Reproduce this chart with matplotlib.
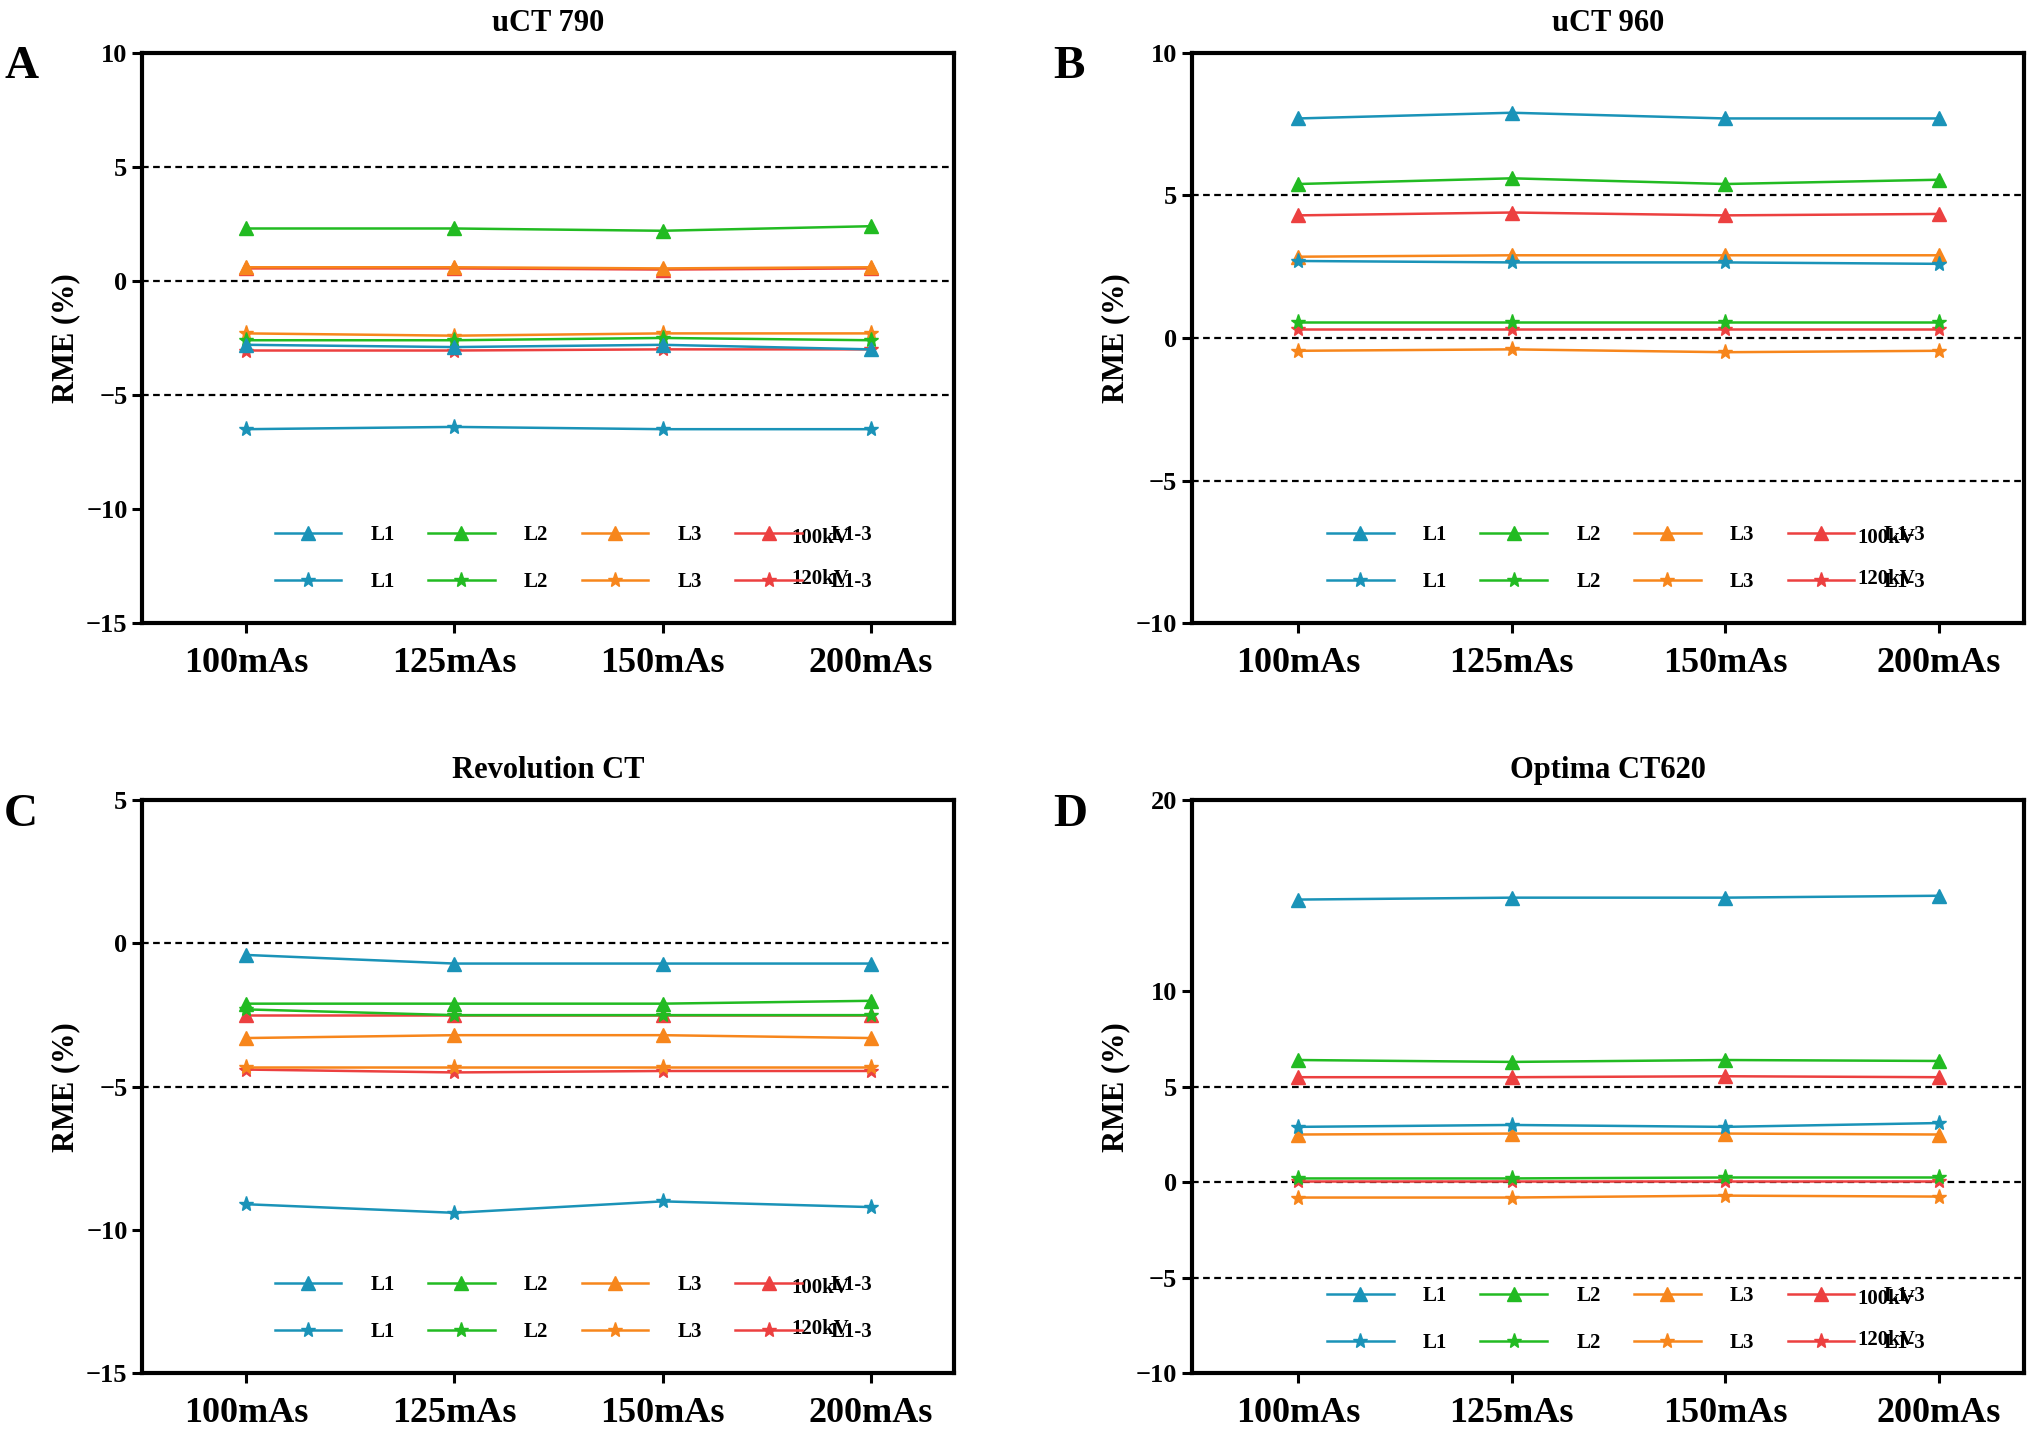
import matplotlib
matplotlib.use("Agg")
import matplotlib.pyplot as plt
from matplotlib.lines import Line2D

plt.rcParams['font.family'] = ['Liberation Serif', 'DejaVu Serif']
plt.rcParams['font.weight'] = 'bold'

categories = ["100mAs", "125mAs", "150mAs", "200mAs"]
series_names = ["L1", "L2", "L3", "L1-3"]
colors = ["#1a93b8", "#22bb22", "#f7861c", "#ec4040"]

titles = ["uCT 790", "uCT 960", "Revolution CT", "Optima CT620"]
letters = ["A", "B", "C", "D"]
ylims = [(-15, 10), (-10, 10), (-15, 5), (-10, 20)]
yticks = [[-15, -10, -5, 0, 5, 10], [-10, -5, 0, 5, 10], [-15, -10, -5, 0, 5], [-10, -5, 0, 5, 10, 20]]

# 100kV (triangles): L1, L2, L3, L1-3
A_100 = [[-2.8, -2.9, -2.8, -3.0], [2.3, 2.3, 2.2, 2.4], [0.6, 0.6, 0.55, 0.6], [0.55, 0.55, 0.5, 0.55]]
A_120 = [[-6.5, -6.4, -6.5, -6.5], [-2.6, -2.6, -2.5, -2.6], [-2.3, -2.4, -2.3, -2.3], [-3.05, -3.05, -3.0, -3.0]]
B_100 = [[7.7, 7.9, 7.7, 7.7], [5.4, 5.6, 5.4, 5.55], [2.85, 2.9, 2.9, 2.9], [4.3, 4.4, 4.3, 4.35]]
B_120 = [[2.7, 2.65, 2.65, 2.6], [0.55, 0.55, 0.55, 0.55], [-0.45, -0.4, -0.5, -0.45], [0.3, 0.3, 0.3, 0.3]]
C_100 = [[-0.4, -0.7, -0.7, -0.7], [-2.1, -2.1, -2.1, -2.0], [-3.3, -3.2, -3.2, -3.3], [-2.5, -2.5, -2.5, -2.5]]
C_120 = [[-9.1, -9.4, -9.0, -9.2], [-2.3, -2.5, -2.5, -2.5], [-4.3, -4.3, -4.3, -4.3], [-4.4, -4.5, -4.45, -4.45]]
D_100 = [[14.8, 14.9, 14.9, 15.0], [6.4, 6.3, 6.4, 6.35], [2.5, 2.55, 2.55, 2.5], [5.5, 5.5, 5.55, 5.5]]
D_120 = [[2.9, 3.0, 2.9, 3.1], [0.2, 0.2, 0.25, 0.25], [-0.8, -0.8, -0.7, -0.75], [0.05, 0.05, 0.05, 0.05]]
data100 = [A_100, B_100, C_100, D_100]
data120 = [A_120, B_120, C_120, D_120]

fig = plt.figure(figsize=(20.3, 14.29), dpi=100)
rects = [(0.070, 0.564, 0.400, 0.399), (0.587, 0.564, 0.410, 0.399),
         (0.070, 0.039, 0.400, 0.401), (0.587, 0.039, 0.410, 0.401)]
leg_y = [0.113, 0.113, 0.113, 0.094]
x = list(range(len(categories)))
for k in range(4):
    ax = fig.add_axes(rects[k])
    for y in (-5, 0, 5):
        ax.axhline(y, color='black', ls=(0, (3, 2)), lw=1.6, zorder=1)
    for i in range(4):
        z = 6 - i
        ax.plot(x, data100[k][i], color=colors[i], marker='^', ms=10, lw=1.8, zorder=z)
        ax.plot(x, data120[k][i], color=colors[i], marker='*', ms=11, lw=1.8, zorder=z)
    ax.set_xlim(-0.5, 3.4)
    ax.set_ylim(*ylims[k])
    ax.set_yticks(yticks[k])
    ax.set_xticks(x)
    ax.set_xticklabels(categories, fontsize=26, fontweight='bold')
    ax.tick_params(axis='y', labelsize=19, width=2.2, length=7)
    ax.tick_params(axis='x', width=2.2, length=7, pad=10)
    for s in ax.spines.values():
        s.set_linewidth(3)
    ax.set_ylabel("RME (%)", fontsize=22, fontweight='bold')
    ax.set_title(titles[k], fontsize=22, fontweight='bold', pad=16)
    fig.text(rects[k][0] - 0.068, rects[k][1] + rects[k][3] - 0.01, letters[k],
             fontsize=34, fontweight='bold', va='center')
    handles, labels = [], []
    for i in range(4):
        handles += [Line2D([], [], color=colors[i], marker='^', ms=10, lw=1.8),
                    Line2D([], [], color=colors[i], marker='*', ms=11, lw=1.8)]
        labels += [series_names[i], series_names[i]]
    ax.legend(handles, labels, ncol=4, loc='center left', bbox_to_anchor=(0.14, leg_y[k]),
              frameon=False, fontsize=15, handlelength=3.2, columnspacing=1.6,
              labelspacing=1.3, handletextpad=1.4)
    ax.text(0.835, leg_y[k] + 0.036, "100kV", transform=ax.transAxes, ha='center', va='center', fontsize=15)
    ax.text(0.835, leg_y[k] - 0.036, "120kV", transform=ax.transAxes, ha='center', va='center', fontsize=15)
fig.savefig("out.png", dpi=100)
